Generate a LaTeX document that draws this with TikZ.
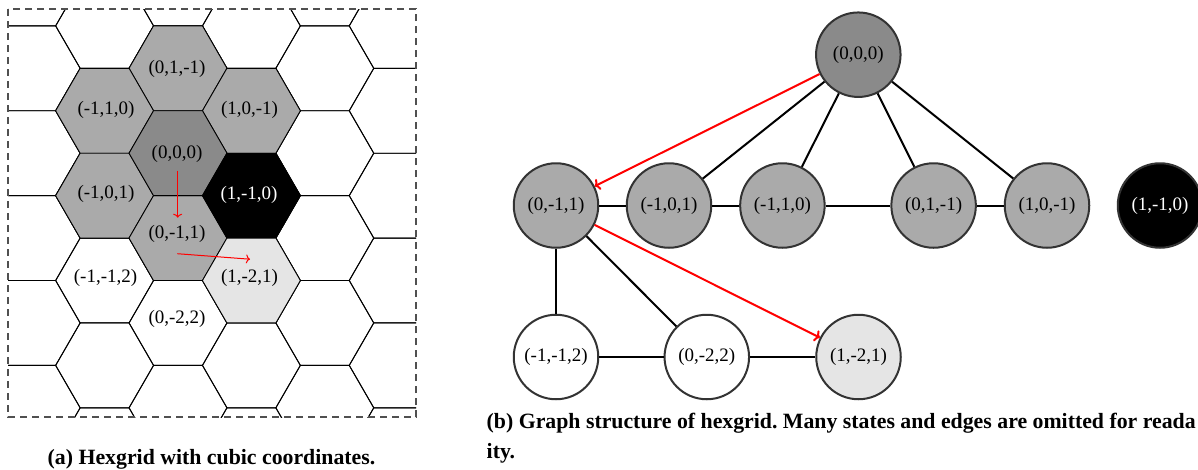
\documentclass[tikz,border=0pt]{standalone}
\usepackage{fontspec}
\setmainfont{Liberation Serif}
\usetikzlibrary{arrows.meta}
\definecolor{nbgray}{HTML}{AAAAAA}
\definecolor{ctgray}{HTML}{8A8A8A}
\definecolor{ltgray}{HTML}{E5E5E5}
\definecolor{rimgray}{HTML}{333333}
\definecolor{boxgray}{HTML}{505050}
\newcommand{\hexcell}[3]{%
  \pgfmathsetmacro\hcx{178+73.4*(#1)}%
  \pgfmathsetmacro\hcy{153.2-84.87*((#2)+(#1)/2)}%
  \draw[#3] (\hcx+49,\hcy) -- (\hcx+24.5,\hcy+42.435) -- (\hcx-24.5,\hcy+42.435) -- (\hcx-49,\hcy) -- (\hcx-24.5,\hcy-42.435) -- (\hcx+24.5,\hcy-42.435) -- cycle;%
}
\tikzset{
  hexline/.style={draw=black, line width=0.9pt},
  hexlabel/.style={inner sep=0pt, font=\fontsize{19}{22}\selectfont},
  state/.style={circle, draw=rimgray, line width=2pt, minimum size=84.5pt, inner sep=0pt, font=\fontsize{19}{22}\selectfont},
  edge/.style={draw=black, line width=2pt},
  redarrow/.style={draw=red, line width=2pt, -{To[length=5pt,width=12pt]}},
  smallred/.style={draw=red, line width=1pt, -{To[length=4pt,width=9pt]}},
  caption/.style={inner sep=0pt, font=\fontsize{21.8}{26}\selectfont\bfseries}
}
\frenchspacing
\begin{document}
\begin{tikzpicture}[x=1pt, y=-1pt]
\useasboundingbox (0,0) rectangle (1198,469);
% ---------- (a) hexgrid ----------
\begin{scope}
  \clip (8,9) rectangle (416,417);
  \foreach \q in {-3,...,4}{%
    \foreach \r in {-7,...,6}{%
      \hexcell{\q}{\r}{hexline}%
    }%
  }
  \hexcell{0}{1}{hexline, fill=nbgray}
  \hexcell{-1}{1}{hexline, fill=nbgray}
  \hexcell{1}{0}{hexline, fill=nbgray}
  \hexcell{-1}{0}{hexline, fill=nbgray}
  \hexcell{0}{-1}{hexline, fill=nbgray}
  \hexcell{0}{0}{hexline, fill=ctgray}
  \hexcell{1}{-1}{hexline, fill=black}
  \hexcell{1}{-2}{hexline, fill=ltgray}
\end{scope}
\draw[boxgray, line width=1.2pt, dash pattern=on 7pt off 5pt] (8,9) rectangle (416,417);
\node[hexlabel] (h01m1) at (177,69) {(0,1,-1)};
\node[hexlabel] (hm110) at (106,110) {(-1,1,0)};
\node[hexlabel] (h10m1) at (249.5,110) {(1,0,-1)};
\node[hexlabel] (h000) at (177,153.5) {(0,0,0)};
\node[hexlabel] (hm101) at (106,194) {(-1,0,1)};
\node[hexlabel, text=white] (h1m10) at (249,195) {(1,-1,0)};
\node[hexlabel] (h0m11) at (177,234) {(0,-1,1)};
\node[hexlabel] (hm1m12) at (105.5,278) {(-1,-1,2)};
\node[hexlabel] (h1m21) at (249.5,278) {(1,-2,1)};
\node[hexlabel] (h0m22) at (177,319) {(0,-2,2)};
\coordinate (ha1s) at (177.7,170.7);
\coordinate (ha1e) at (177.7,217.7);
\coordinate (ha2s) at (177.3,253.7);
\coordinate (ha2e) at (250,259.2);
\draw[smallred] (ha1s) -- (ha1e);
\draw[smallred] (ha2s) -- (ha2e);
\node[caption, anchor=base] (capa) at (211.5,464.3) {(a) Hexgrid with cubic coordinates.};
% ---------- (b) graph ----------
\node[state, fill=ctgray] (n000) at (858.3,54.7) {(0,0,0)};
\node[state, fill=nbgray] (n0m11) at (556,205.5) {(0,-1,1)};
\node[state, fill=nbgray] (nm101) at (669,205.5) {(-1,0,1)};
\node[state, fill=nbgray] (nm110) at (782.4,205.5) {(-1,1,0)};
\node[state, fill=nbgray] (n01m1) at (933.6,205.5) {(0,1,-1)};
\node[state, fill=nbgray] (n10m1) at (1047,205.5) {(1,0,-1)};
\node[state, fill=black, text=white] (n1m10) at (1160,205.5) {(1,-1,0)};
\node[state, fill=white] (nm1m12) at (556,357) {(-1,-1,2)};
\node[state, fill=white] (n0m22) at (706.8,357) {(0,-2,2)};
\node[state, fill=ltgray] (n1m21) at (858.5,357) {(1,-2,1)};
\draw[edge] (n000) -- (nm101);
\draw[edge] (n000) -- (nm110);
\draw[edge] (n000) -- (n01m1);
\draw[edge] (n000) -- (n10m1);
\draw[edge] (n0m11) -- (nm101);
\draw[edge] (nm101) -- (nm110);
\draw[edge] (nm110) -- (n01m1);
\draw[edge] (n01m1) -- (n10m1);
\draw[edge] (n0m11) -- (nm1m12);
\draw[edge] (n0m11) -- (n0m22);
\draw[edge] (nm1m12) -- (n0m22);
\draw[edge] (n0m22) -- (n1m21);
\draw[redarrow] (n000) -- (n0m11);
\draw[redarrow] (n0m11) -- (n1m21);
\node[caption, anchor=base west] (capb1) at (486.5,428.3) {(b) Graph structure of hexgrid. Many states and edges are omitted for reada};
\node[caption, anchor=base west] (capb2) at (486.5,458.3) {ity.};
\end{tikzpicture}
\end{document}
